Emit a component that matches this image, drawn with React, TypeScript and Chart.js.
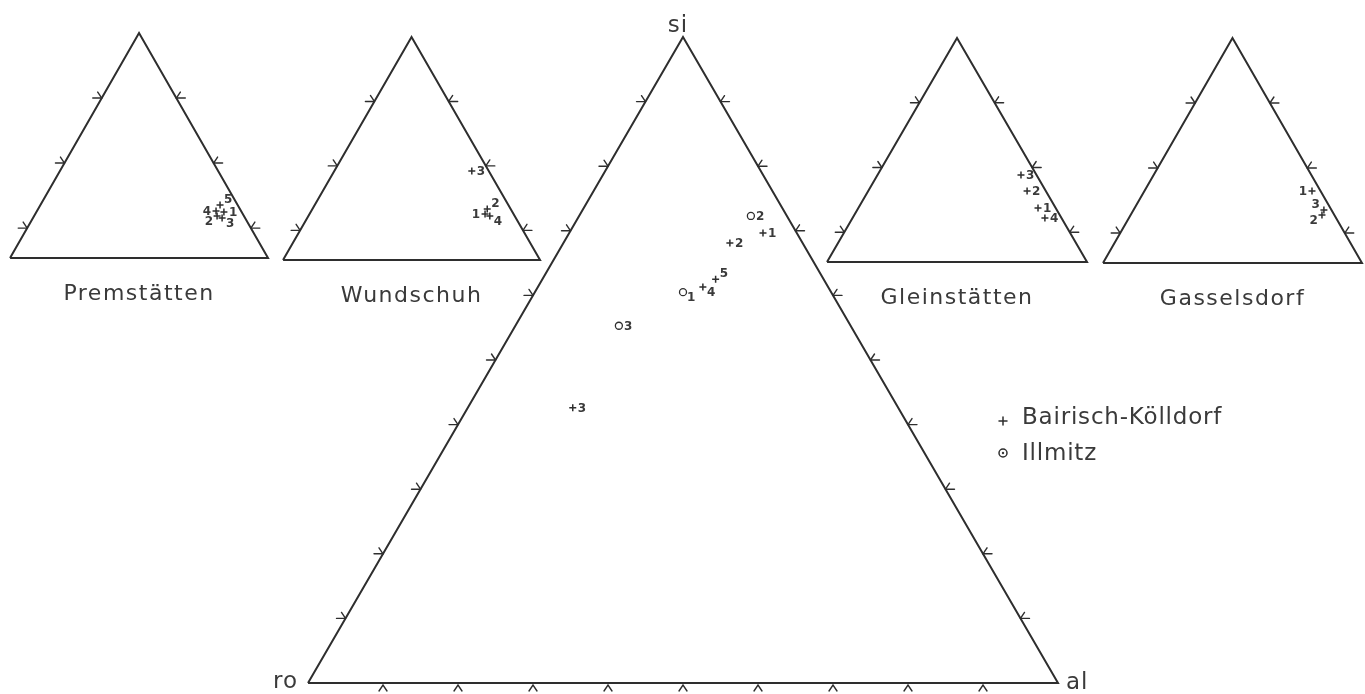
import { useEffect, useRef } from "react";
import { Chart, registerables } from "chart.js";

Chart.register(...registerables);

// ---------- DATA (ternary values in %, si = top apex, al = right corner, ro = 100 - si - al) ----------
const cornerLabels = ["si", "al", "ro"];
const diagramNames = ["Premstätten", "Wundschuh", "Gleinstätten", "Gasselsdorf"];
const legendLabels = ["Bairisch-Kölldorf", "Illmitz"];

const mainTicks = [10, 20, 30, 40, 50, 60, 70, 80, 90];
const smallTicks = [13.3, 42.2, 71.1];

const premstaettenSi = [20.4, 18.7, 17.8, 20.9, 23.6];
const premstaettenAl = [72.7, 70.9, 73.3, 69.4, 69.6];
const premstaettenNo = ["1", "2", "3", "4", "5"];

const wundschuhSi = [20.6, 22.9, 39.9, 19.7];
const wundschuhAl = [68.3, 68.0, 53.5, 70.6];
const wundschuhNo = ["1", "2", "3", "4"];

const gleinstaettenSi = [24.1, 31.7, 38.8, 19.6];
const gleinstaettenAl = [69.1, 61.1, 55.2, 74.0];
const gleinstaettenNo = ["1", "2", "3", "4"];

const gasselsdorfSi = [32.0, 21.3, 23.6];
const gasselsdorfAl = [64.7, 73.9, 73.5];
const gasselsdorfNo = ["1", "2", "3"];

const bairischSi = [69.65, 68.1, 42.6, 61.3, 62.5];
const bairischAl = [25.84, 22.2, 14.0, 22.0, 23.1];
const bairischNo = ["1", "2", "3", "4", "5"];

const illmitzSi = [60.5, 72.3, 55.3];
const illmitzAl = [19.75, 22.9, 13.8];
const illmitzNo = ["1", "2", "3"];

// ---------- LAYOUT / STYLE ----------
const W = 1365;
const H = 694;
const X_MIN = -41.067;
const X_MAX = 140.933;
const Y_MIN = -1.703;
const Y_MAX = 105.73;

type Frame = { ox: number; oy: number; sx: number; sy: number };
const mainFrame: Frame = { ox: 0, oy: 0, sx: 100, sy: 100 };
const smallFrames: Frame[] = [
  { ox: -39.73, oy: 65.79, sx: 34.4, sy: 34.83 },
  { ox: -3.33, oy: 65.48, sx: 34.27, sy: 34.52 },
  { ox: 69.2, oy: 65.17, sx: 34.67, sy: 34.67 },
  { ox: 106.0, oy: 65.02, sx: 34.53, sy: 34.83 },
];

const premPlace = ["r", "ll", "lr", "l", "ur"];
const wundPlace = ["l", "ur", "r", "lr"];
const gleinPlace = ["r", "r", "r", "r"];
const gassPlace = ["l", "ll", "ul"];
const bairPlace = ["r", "r", "r", "lr", "ur"];
const illPlace = ["lr", "r", "r"];

const INK = "#2e2e2e";
const TEXT = "#3a3a3a";
const FONT = '"DejaVu Sans", "Noto Sans", sans-serif';

function toXY(f: Frame, si: number, al: number) {
  return { x: f.ox + (f.sx * (al + si / 2)) / 100, y: f.oy + (f.sy * si) / 100 };
}

function outline(f: Frame) {
  return [toXY(f, 0, 0), toXY(f, 0, 100), toXY(f, 100, 0), toXY(f, 0, 0)];
}

type Group = { frame: Frame; si: number[]; al: number[]; no: string[]; place: string[] };
const plusGroups: Group[] = [
  { frame: smallFrames[0], si: premstaettenSi, al: premstaettenAl, no: premstaettenNo, place: premPlace },
  { frame: smallFrames[1], si: wundschuhSi, al: wundschuhAl, no: wundschuhNo, place: wundPlace },
  { frame: smallFrames[2], si: gleinstaettenSi, al: gleinstaettenAl, no: gleinstaettenNo, place: gleinPlace },
  { frame: smallFrames[3], si: gasselsdorfSi, al: gasselsdorfAl, no: gasselsdorfNo, place: gassPlace },
  { frame: mainFrame, si: bairischSi, al: bairischAl, no: bairischNo, place: bairPlace },
];
const circleGroup: Group = { frame: mainFrame, si: illmitzSi, al: illmitzAl, no: illmitzNo, place: illPlace };

function pts(g: Group) {
  return g.si.map((s, i) => toXY(g.frame, s, g.al[i]));
}

const placeOffsets: Record<string, [number, number, CanvasTextAlign]> = {
  r: [5, 1, "left"],
  l: [-5, 1, "right"],
  ur: [4, -5, "left"],
  lr: [4, 6, "left"],
  ll: [-4, 6, "right"],
  ul: [-4, -5, "right"],
};

const drawPlugin = {
  id: "ternaryDecor",
  afterDatasetsDraw(chart: any) {
    const ctx: CanvasRenderingContext2D = chart.ctx;
    const sx = chart.scales.x;
    const sy = chart.scales.y;
    const P = (p: { x: number; y: number }) => ({ X: sx.getPixelForValue(p.x), Y: sy.getPixelForValue(p.y) });
    ctx.save();
    ctx.strokeStyle = INK;
    ctx.lineWidth = 1.4;
    ctx.lineCap = "round";

    const seg = (x1: number, y1: number, x2: number, y2: number) => {
      ctx.beginPath();
      ctx.moveTo(x1, y1);
      ctx.lineTo(x2, y2);
      ctx.stroke();
    };
    const sideTicks = (f: Frame, ticks: number[], bottom: boolean) => {
      ticks.forEach((t) => {
        const L = P(toXY(f, t, 0));
        seg(L.X, L.Y, L.X - 9, L.Y);
        seg(L.X, L.Y, L.X - 4, L.Y - 6);
        const R = P(toXY(f, t, 100 - t));
        seg(R.X, R.Y, R.X + 9, R.Y);
        seg(R.X, R.Y, R.X + 4, R.Y - 6);
        if (bottom) {
          const B = P(toXY(f, 0, t));
          ctx.beginPath();
          ctx.moveTo(B.X - 4, B.Y + 8);
          ctx.lineTo(B.X, B.Y + 2);
          ctx.lineTo(B.X + 4, B.Y + 8);
          ctx.stroke();
        }
      });
    };
    sideTicks(mainFrame, mainTicks, true);
    smallFrames.forEach((f) => sideTicks(f, smallTicks, false));

    // point numbers
    ctx.fillStyle = TEXT;
    ctx.font = `bold 12px ${FONT}`;
    ctx.textBaseline = "middle";
    [...plusGroups, circleGroup].forEach((g) => {
      pts(g).forEach((p, i) => {
        const q = P(p);
        const [dx, dy, align] = placeOffsets[g.place[i]];
        ctx.textAlign = align;
        ctx.fillText(g.no[i], q.X + dx, q.Y + dy);
      });
    });

    // diagram titles
    ctx.font = `22px ${FONT}`;
    (ctx as any).letterSpacing = "1.5px";
    ctx.textAlign = "center";
    ctx.textBaseline = "alphabetic";
    smallFrames.forEach((f, i) => {
      const c = P({ x: f.ox + f.sx / 2, y: f.oy });
      ctx.fillText(diagramNames[i], c.X, c.Y + 42);
    });

    // corner labels
    (ctx as any).letterSpacing = "1px";
    ctx.font = `23px ${FONT}`;
    const apex = P(toXY(mainFrame, 100, 0));
    const alC = P(toXY(mainFrame, 0, 100));
    const roC = P(toXY(mainFrame, 0, 0));
    ctx.textAlign = "center";
    ctx.fillText(cornerLabels[0], apex.X - 5, apex.Y - 5);
    ctx.textAlign = "left";
    ctx.fillText(cornerLabels[1], alC.X + 8, alC.Y + 6);
    ctx.textAlign = "right";
    ctx.fillText(cornerLabels[2], roC.X - 10, roC.Y + 5);

    // legend
    const lx = chart.chartArea.left + 1003;
    const ly1 = chart.chartArea.top + 421;
    const ly2 = chart.chartArea.top + 453;
    ctx.lineWidth = 1.5;
    seg(lx - 4, ly1, lx + 4, ly1);
    seg(lx, ly1 - 4, lx, ly1 + 4);
    ctx.beginPath();
    ctx.arc(lx, ly2, 4, 0, Math.PI * 2);
    ctx.stroke();
    ctx.beginPath();
    ctx.arc(lx, ly2, 1.2, 0, Math.PI * 2);
    ctx.fill();
    ctx.font = `23px ${FONT}`;
    (ctx as any).letterSpacing = "0.8px";
    ctx.textAlign = "left";
    ctx.textBaseline = "middle";
    ctx.fillText(legendLabels[0], lx + 19, ly1 - 3);
    ctx.fillText(legendLabels[1], lx + 19, ly2 + 1);
    ctx.restore();
  },
};

export default function App() {
  const ref = useRef<HTMLCanvasElement | null>(null);
  useEffect(() => {
    if (!ref.current) return;
    const lineStyle = {
      showLine: true,
      borderColor: INK,
      borderWidth: 2,
      pointRadius: 0,
      tension: 0,
      fill: false,
    };
    const datasets: any[] = [];
    [mainFrame, ...smallFrames].forEach((f) => datasets.push({ ...lineStyle, data: outline(f) }));
    plusGroups.forEach((g) =>
      datasets.push({
        data: pts(g),
        pointStyle: "cross",
        pointRadius: 3.5,
        borderColor: INK,
        borderWidth: 1.5,
        showLine: false,
      })
    );
    datasets.push({
      data: pts(circleGroup),
      pointStyle: "circle",
      pointRadius: 3.5,
      borderColor: INK,
      backgroundColor: "#ffffff",
      borderWidth: 1.3,
      showLine: false,
    });
    datasets.push({
      data: pts(circleGroup),
      pointStyle: "circle",
      pointRadius: 1,
      borderWidth: 0,
      backgroundColor: INK,
      showLine: false,
    });
    const chart = new Chart(ref.current, {
      type: "scatter",
      data: { datasets },
      options: {
        animation: false,
        responsive: false,
        maintainAspectRatio: false,
        devicePixelRatio: 1,
        events: [],
        layout: { padding: 0, autoPadding: false },
        plugins: { legend: { display: false }, tooltip: { enabled: false } },
        scales: {
          x: { type: "linear", display: false, min: X_MIN, max: X_MAX },
          y: { type: "linear", display: false, min: Y_MIN, max: Y_MAX },
        },
      },
      plugins: [drawPlugin],
    });
    return () => chart.destroy();
  }, []);
  return (
    <div style={{ position: "absolute", left: 0, top: 0, width: W, height: H, background: "#fff" }}>
      <canvas ref={ref} width={W} height={H} style={{ display: "block", width: W, height: H }} />
    </div>
  );
}
